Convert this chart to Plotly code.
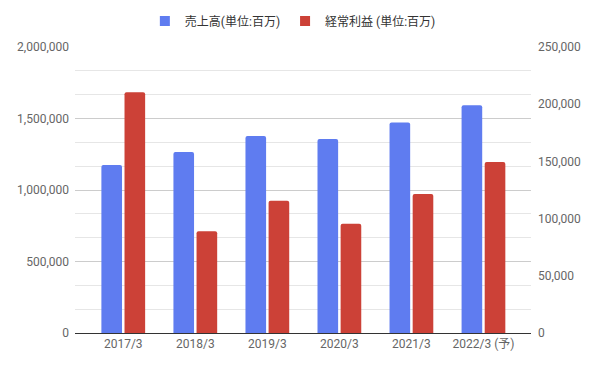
import plotly.graph_objects as go

categories = ["2017/3", "2018/3", "2019/3", "2020/3", "2021/3", "2022/3 (予)"]
sales = [1175000, 1265000, 1377000, 1356000, 1472000, 1592000]
ordinary_profit = [210500, 89000, 115500, 95500, 121500, 149500]

sales_name = "売上高(単位:百万)"
profit_name = "経常利益 (単位:百万)"

left_ticks = [0, 500000, 1000000, 1500000, 2000000]
right_ticks = [0, 50000, 100000, 150000, 200000, 250000]

blue = "#5F7CF0"
red = "#CC4137"
font_family = "Roboto, 'Noto Sans CJK JP', sans-serif"

# page body has an 8px margin, so the figure is drawn 8px in from the corner
W, H = 591, 361

fig = go.Figure()
fig.add_trace(go.Bar(x=categories, y=sales, name=sales_name,
                     marker=dict(color=blue, line=dict(width=0)),
                     offsetgroup="a", yaxis="y", showlegend=False, legendgroup="a"))
fig.add_trace(go.Bar(x=categories, y=ordinary_profit, name=profit_name,
                     marker=dict(color=red, line=dict(width=0)),
                     offsetgroup="b", yaxis="y2", showlegend=False, legendgroup="b"))
# legend entries with square swatches
fig.add_trace(go.Scatter(x=[None], y=[None], mode="markers", name=sales_name,
                         marker=dict(symbol="square", size=10, color=blue),
                         legendgroup="a", hoverinfo="skip"))
fig.add_trace(go.Scatter(x=[None], y=[None], mode="markers", name=profit_name,
                         marker=dict(symbol="square", size=10, color=red),
                         legendgroup="b", hoverinfo="skip"))

fig.update_layout(
    width=W, height=H,
    margin=dict(l=67, r=68, t=39, b=36, autoexpand=False),
    paper_bgcolor="white", plot_bgcolor="white",
    font=dict(family=font_family, size=12, color="#666666"),
    barmode="group", bargap=0.358, bargroupgap=0.108,
    barcornerradius=2,
    showlegend=True,
    legend=dict(orientation="h", xref="container", yref="container",
                x=0.482, xanchor="center", y=1 - 13 / H, yanchor="middle",
                font=dict(size=12, color="#333333"),
                traceorder="normal", itemwidth=30),
    xaxis=dict(type="category", range=[-0.67, 5.66], showgrid=False,
               showline=True, linecolor="#333333", linewidth=1,
               ticks="", tickfont=dict(size=12, color="#666666"),
               zeroline=False),
    yaxis=dict(range=[0, 2000000], tickvals=left_ticks,
               tickformat=",d", showgrid=True, gridcolor="#cccccc", gridwidth=1,
               minor=dict(tickvals=[i * 2000000 / 12 for i in range(13)],
                          showgrid=True, gridcolor="#e6e6e6", gridwidth=1),
               zeroline=True, zerolinecolor="#333333", zerolinewidth=1,
               ticks="", ticklabelstandoff=5,
               tickfont=dict(size=12, color="#666666")),
    yaxis2=dict(range=[0, 250000], tickvals=right_ticks, tickformat=",d",
                overlaying="y", side="right", showgrid=False, zeroline=False,
                ticks="", ticklabelstandoff=6,
                tickfont=dict(size=12, color="#666666")),
)

fig.write_html("out.html")
